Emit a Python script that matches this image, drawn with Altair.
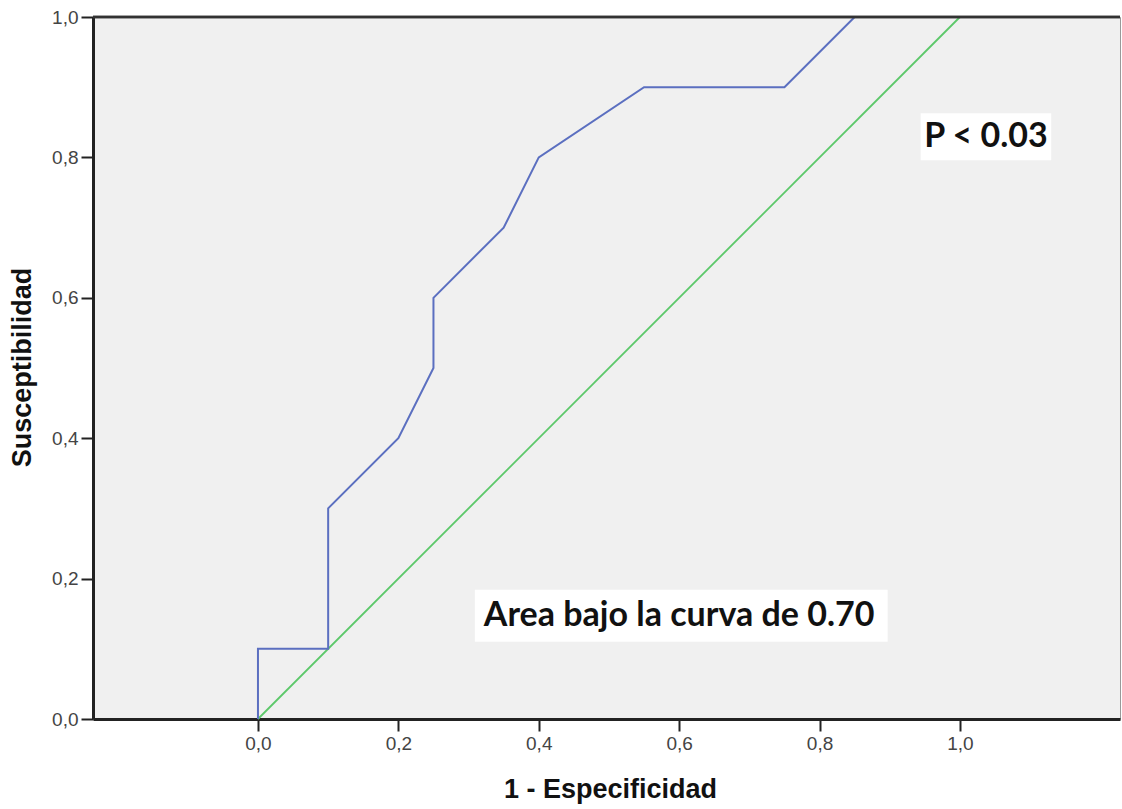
import altair as alt
import pandas as pd

# ROC curve points (1 - specificity, sensitivity)
roc_fpr = [0.0, 0.0, 0.10, 0.10, 0.20, 0.25, 0.25, 0.35, 0.40, 0.55, 0.75, 0.85, 1.0]
roc_tpr = [0.0, 0.10, 0.10, 0.30, 0.40, 0.50, 0.60, 0.70, 0.80, 0.90, 0.90, 1.0, 1.0]

# reference diagonal
ref_x = [0.0, 1.0]
ref_y = [0.0, 1.0]

# annotations
ann_text = ["P < 0.03", "Area bajo la curva de 0.70"]
ann_x = [1.037, 0.600]
ann_y = [0.829, 0.147]
box_x1 = [0.944, 0.309]
box_x2 = [1.130, 0.897]
box_y1 = [0.796, 0.110]
box_y2 = [0.863, 0.184]

tick_values = [0.0, 0.2, 0.4, 0.6, 0.8, 1.0]
x_domain = [-0.235, 1.228]
y_domain = [0.0, 1.0]

W, H = 1027, 702

roc = pd.DataFrame({"x": roc_fpr, "y": roc_tpr, "i": list(range(len(roc_fpr)))})
ref = pd.DataFrame({"x": ref_x, "y": ref_y, "i": list(range(len(ref_x)))})
ann = pd.DataFrame({"t": ann_text, "x": ann_x, "y": ann_y,
                    "x1": box_x1, "x2": box_x2, "y1": box_y1, "y2": box_y2})

label_expr = "replace(format(datum.value, '.1f'), '.', ',')"

xscale = alt.Scale(domain=x_domain, nice=False, zero=False)
yscale = alt.Scale(domain=y_domain, nice=False)

xaxis = alt.Axis(values=tick_values, labelExpr=label_expr, grid=False,
                 title="1 - Especificidad", titleX=517, titleY=70,
                 titleBaseline="middle", titleAlign="center")
yaxis = alt.Axis(values=tick_values, labelExpr=label_expr, grid=False,
                 title="Susceptibilidad", titleX=-71, titleY=350,
                 titleAngle=-90, titleBaseline="middle", titleAlign="center")

ref_line = alt.Chart(ref).mark_line(color="#5cc86a", strokeWidth=1.8).encode(
    x=alt.X("x:Q", scale=xscale, axis=xaxis),
    y=alt.Y("y:Q", scale=yscale, axis=yaxis),
    order="i:Q",
)

roc_line = alt.Chart(roc).mark_line(color="#5b6fc0", strokeWidth=2).encode(
    x=alt.X("x:Q", scale=xscale),
    y=alt.Y("y:Q", scale=yscale),
    order="i:Q",
)

boxes = alt.Chart(ann).mark_rect(color="white").encode(
    x=alt.X("x1:Q", scale=xscale), x2="x2:Q",
    y=alt.Y("y1:Q", scale=yscale), y2="y2:Q",
)

texts = alt.Chart(ann).mark_text(font="Lato", fontWeight="bold", fontSize=34,
                                 color="#111111", baseline="middle",
                                 align="center").encode(
    x=alt.X("x:Q", scale=xscale),
    y=alt.Y("y:Q", scale=yscale),
    text="t:N",
)

top_border = alt.Chart(ann).mark_rule(color="#333333", strokeWidth=2.5).encode(
    x=alt.value(0), x2=alt.value(W), y=alt.value(0)
)

chart = alt.layer(ref_line, roc_line, boxes, texts, top_border).properties(
    width=W, height=H,
    autosize=alt.AutoSizeParams(type="none"),
    padding={"left": 93, "top": 17, "right": 2, "bottom": 90},
    background="white",
).configure_view(
    fill="#f0f0f0", stroke="#999999", strokeWidth=1
).configure_axis(
    domainColor="#222222", domainWidth=3,
    tickColor="#222222", tickWidth=2, tickSize=12,
    labelFont="Liberation Sans", labelFontSize=19, labelColor="#444444",
    labelPadding=3,
    titleFont="Liberation Sans", titleFontSize=27, titleFontWeight="bold",
    titleColor="#111111",
)

chart.save("out.html", embed_options={"renderer": "svg", "actions": False})
